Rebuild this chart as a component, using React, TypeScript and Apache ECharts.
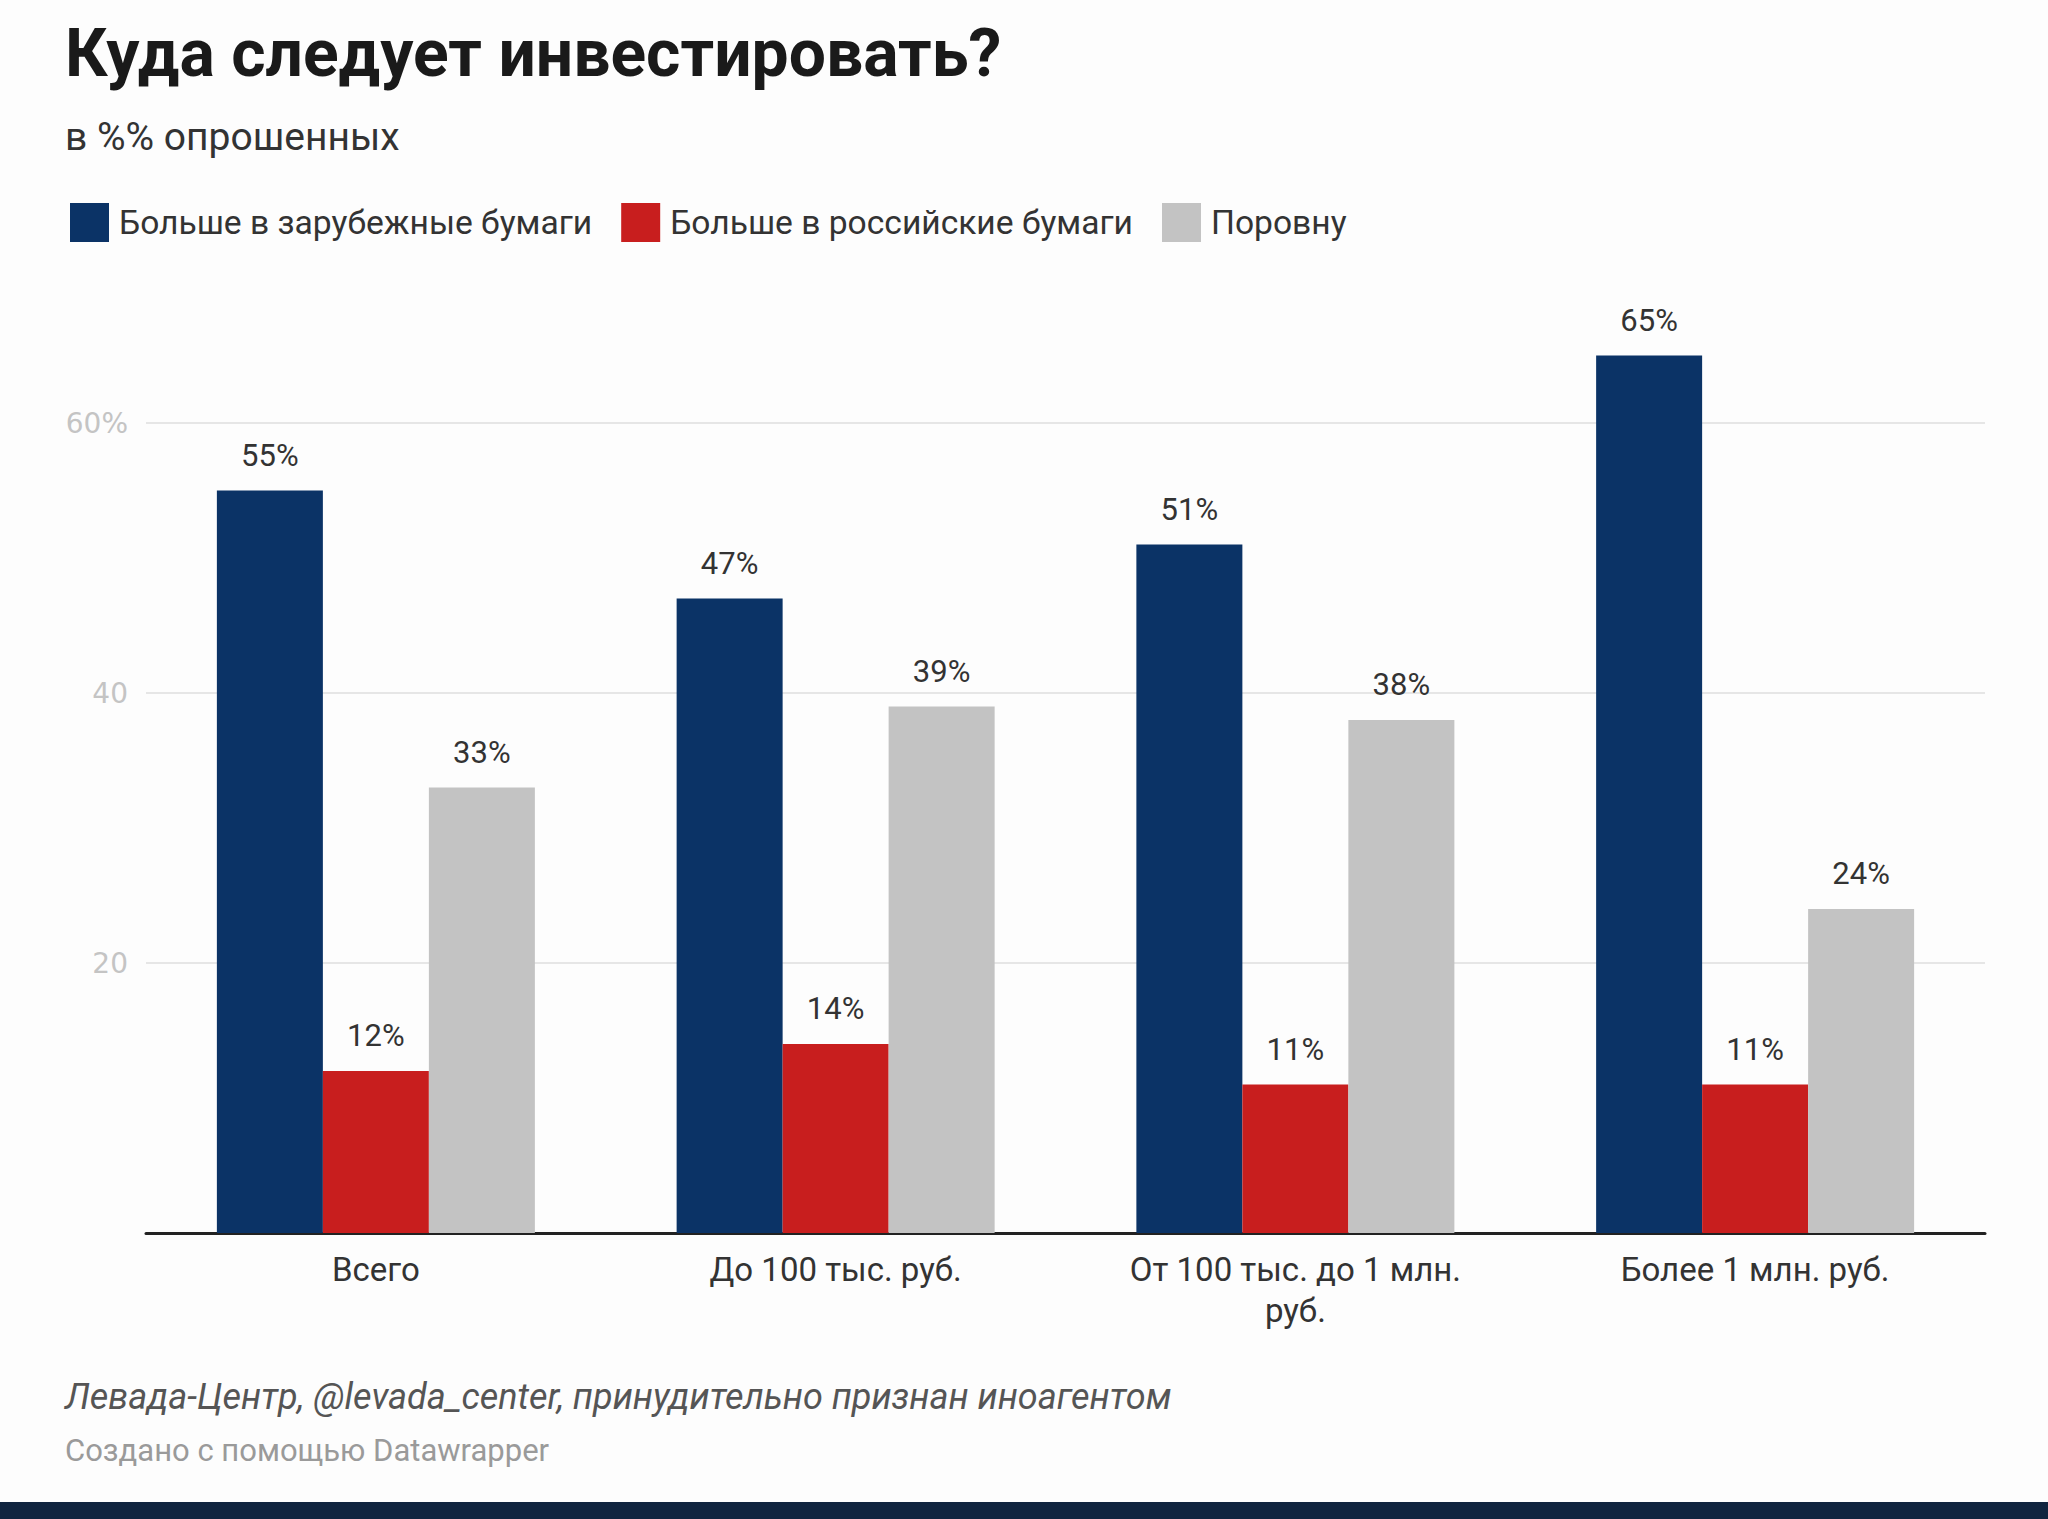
import React, { useEffect, useRef } from "react";
import * as echarts from "echarts";

const categories = ["Всего", "До 100 тыс. руб.", "От 100 тыс. до 1 млн.\nруб.", "Более 1 млн. руб."];
const seriesNames = ["Больше в зарубежные бумаги", "Больше в российские бумаги", "Поровну"];
const foreign = [55, 47, 51, 65];
const russian = [12, 14, 11, 11];
const equal = [33, 39, 38, 24];
const colors = ["#0b3366", "#c81e1e", "#c3c3c3"];

const title = "Куда следует инвестировать?";
const subtitle = "в %% опрошенных";
const sourceText = "Левада-Центр, @levada_center, принудительно признан иноагентом";
const madeWith = "Создано с помощью Datawrapper";

export default function App() {
  const ref = useRef<HTMLDivElement>(null);
  useEffect(() => {
    if (!ref.current) return;
    const chart = echarts.init(ref.current, null, { renderer: "svg" });
    const font = "Roboto";
    const mk = (name: string, data: number[], color: string) => ({
      name,
      type: "bar",
      data,
      barWidth: 106,
      barGap: "0%",
      clip: false,
      itemStyle: { color },
      label: {
        show: true,
        position: "top",
        distance: 20,
        formatter: "{c}%",
        fontFamily: font,
        fontSize: 31,
        color: "#333333",
      },
    });
    chart.setOption({
      animation: false,
      backgroundColor: "#fdfdfd",
      textStyle: { fontFamily: font },
      legend: {
        left: 65,
        top: 198,
        icon: "rect",
        itemWidth: 39,
        itemHeight: 39,
        itemGap: 29,
        textStyle: { fontFamily: font, fontSize: 33.6, color: "#333333", padding: [0, 0, 0, 5] },
        data: seriesNames,
      },
      grid: { left: 146, right: 63, top: 423, bottom: 286, containLabel: false },
      xAxis: {
        type: "category",
        data: categories,
        axisTick: { show: false },
        axisLine: { lineStyle: { color: "#222222", width: 3 } },
        axisLabel: { fontFamily: font, fontSize: 33, color: "#333333", margin: 16, lineHeight: 41, interval: 0 },
      },
      yAxis: {
        type: "value",
        min: 0,
        max: 60,
        interval: 20,
        axisLine: { show: false },
        axisTick: { show: false },
        splitLine: { lineStyle: { color: "#e6e6e6", width: 2 } },
        axisLabel: {
          fontFamily: "DejaVu Sans",
          fontSize: 28,
          color: "#c4c4c4",
          margin: 18,
          formatter: (v: number) => (v === 0 ? "" : v === 60 ? "60%" : String(v)),
        },
      },
      graphic: [
        { type: "text", left: 65, top: 20, style: { text: title, font: `bold 66px ${font}`, fill: "#1a1a1a" } },
        { type: "text", left: 65, top: 117, style: { text: subtitle, font: `39px ${font}`, fill: "#333333" } },
        { type: "text", left: 65, top: 1379, style: { text: sourceText, font: `italic 36px ${font}`, fill: "#555555" } },
        { type: "text", left: 65, top: 1435, style: { text: madeWith, font: `31px ${font}`, fill: "#9a9a9a" } },
        { type: "rect", left: 0, top: 1502, shape: { width: 2048, height: 17 }, style: { fill: "#10243f" } },
      ],
      series: [mk(seriesNames[0], foreign, colors[0]), mk(seriesNames[1], russian, colors[1]), mk(seriesNames[2], equal, colors[2])],
    });
    return () => chart.dispose();
  }, []);
  return <div ref={ref} style={{ position: "absolute", left: 0, top: 0, width: 2048, height: 1519 }} />;
}
